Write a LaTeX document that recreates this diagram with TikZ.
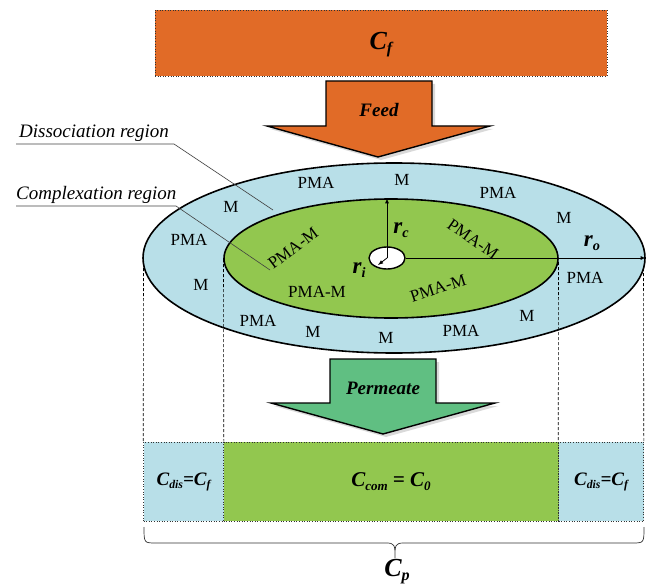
\documentclass[tikz,border=0pt]{standalone}
\usepackage{fontspec}
\setmainfont{Liberation Serif}
\usetikzlibrary{shapes.geometric}
\definecolor{feedorange}{HTML}{E16B27}
\definecolor{ringblue}{HTML}{B8DFE8}
\definecolor{coregreen}{HTML}{92C74F}
\definecolor{permgreen}{HTML}{60BF82}
\newcommand\dn[1]{\raisebox{-0.35ex}{\scalebox{0.62}{#1}}}
\tikzset{
  lbl/.style={font=\fontsize{17}{17}\selectfont, inner sep=0pt},
  bigarrow/.style={draw=black, line width=1.4pt, line join=miter},
  dotbox/.style={draw=black!80, dotted, line width=0.6pt},
  guide/.style={dashed, line width=0.6pt, dash pattern=on 3pt off 2pt},
  leader/.style={draw=black!75, line width=0.6pt},
  region/.style={font=\fontsize{19}{19}\selectfont\itshape, inner sep=0pt, anchor=base west},
  bi/.style={font=\bfseries\itshape, inner sep=0pt},
  ell/.style={draw=black, line width=1.6pt, ellipse, inner sep=0pt}
}
\begin{document}
\begin{tikzpicture}[x=1pt,y=-1pt]
\useasboundingbox (0,0) rectangle (647,588);
% feed box
\node[dotbox, fill=feedorange, minimum width=452pt, minimum height=66pt, inner sep=0pt] (feedbox) at (381,43) {};
\node[bi, font=\fontsize{26}{26}\selectfont\bfseries\itshape] (cf) at (381,45) {C\dn{f}};
% feed arrow
\fill[black!15] (329,84) -- (435,84) -- (435,129) -- (493,129) -- (381,160) -- (270,129) -- (329,129) -- cycle;
\draw[bigarrow, fill=feedorange] (326,81) -- (432,81) -- (432,126) -- (490,126) -- (378,157) -- (267,126) -- (326,126) -- cycle;
\node[bi, font=\fontsize{19}{19}\selectfont\bfseries\itshape] (feed) at (379,110) {Feed};
% ellipses
\node[ell, fill=ringblue, minimum width=502pt, minimum height=190pt] (outer) at (394,258) {};
\node[ell, fill=coregreen, minimum width=334pt, minimum height=119pt] (inner) at (391,258.5) {};
\node[ell, fill=white, line width=1.4pt, minimum width=36pt, minimum height=22pt] (hole) at (387,258) {};
\coordinate (ctr) at (387,258);
% radii
\draw[-latex, line width=0.8pt] (ctr) -- (inner.north -| ctr);
\draw[-latex, line width=0.8pt] (hole.east) -- (outer.east);
\draw[-latex, line width=0.8pt] (ctr) -- (378,265);
\node[bi, font=\fontsize{23}{23}\selectfont\bfseries\itshape] (rc) at (401,230) {r\dn{c}};
\node[bi, font=\fontsize{23}{23}\selectfont\bfseries\itshape] (ro) at (592,243) {r\dn{o}};
\node[bi, font=\fontsize{23}{23}\selectfont\bfseries\itshape] (ri) at (359,270) {r\dn{i}};
% ring labels
\node[lbl] (a1) at (316,183) {PMA};
\node[lbl] (a2) at (402,180) {M};
\node[lbl] (a3) at (498,193) {PMA};
\node[lbl] (a4) at (231,207) {M};
\node[lbl] (a5) at (564,218) {M};
\node[lbl] (a6) at (189,240) {PMA};
\node[lbl] (a7) at (585,278) {PMA};
\node[lbl] (a8) at (201,285) {M};
\node[lbl] (a9) at (258,321) {PMA};
\node[lbl] (a10) at (313,332) {M};
\node[lbl] (a11) at (386,338) {M};
\node[lbl] (a12) at (461,331) {PMA};
\node[lbl] (a13) at (527,316) {M};
% core labels
\node[lbl, rotate=37] (b1) at (293,248) {PMA-M};
\node[lbl, rotate=-35] (b2) at (473,239) {PMA-M};
\node[lbl] (b3) at (317,292) {PMA-M};
\node[lbl, rotate=18] (b4) at (438,288) {PMA-M};
% region labels
\node[region] (dis) at (19,138) {Dissociation region};
\node[region] (com) at (16,199) {Complexation region};
\coordinate (d1) at (16,144); \coordinate (d2) at (174,144); \coordinate (d3) at (273,210);
\coordinate (c1) at (16,206); \coordinate (c2) at (176,206); \coordinate (c3) at (270,270);
\draw[leader] (d1) -- (d2) -- (d3);
\draw[leader] (c1) -- (c2) -- (c3);
% bottom boxes
\node[dotbox, fill=ringblue, minimum width=80pt, minimum height=79pt, inner sep=0pt] (lbox) at (183.5,481.5) {};
\node[dotbox, fill=coregreen, minimum width=335pt, minimum height=79pt, inner sep=0pt] (mbox) at (391,481.5) {};
\node[dotbox, fill=ringblue, minimum width=85pt, minimum height=79pt, inner sep=0pt] (rbox) at (601,481.5) {};
\node[bi, font=\fontsize{19}{19}\selectfont\bfseries\itshape] at (lbox.center) {C\dn{dis}=C\dn{f}};
\node[bi, font=\fontsize{21}{21}\selectfont\bfseries\itshape] at (mbox.center) {C\dn{com} = C\dn{0}};
\node[bi, font=\fontsize{19}{19}\selectfont\bfseries\itshape] at (rbox.center) {C\dn{dis}=C\dn{f}};
% guides
\draw[guide] (143.5,268) -- (lbox.north west);
\draw[guide] (223.5,259) -- (lbox.north east);
\draw[guide] (558.5,262) -- (rbox.north west);
\draw[guide] (643.5,268) -- (rbox.north east);
% permeate arrow
\fill[black!15] (333,362) -- (439,362) -- (439,406) -- (498,406) -- (386,437) -- (274,406) -- (333,406) -- cycle;
\draw[bigarrow, fill=permgreen] (330,359) -- (436,359) -- (436,403) -- (495,403) -- (383,434) -- (271,403) -- (330,403) -- cycle;
\node[bi, font=\fontsize{19}{19}\selectfont\bfseries\itshape] (perm) at (383,388) {Permeate};
% brace
\coordinate (bl) at (144,527); \coordinate (br) at (644,527); \coordinate (bt) at (395,558);
\draw[black!80, line width=0.7pt] (bl) .. controls (144,543) and (144,543) .. (156,543) -- (386,543) .. controls (395,543) and (395,545) .. (bt) .. controls (395,545) and (395,543) .. (404,543) -- (632,543) .. controls (644,543) and (644,543) .. (br);
\node[bi, font=\fontsize{26}{26}\selectfont\bfseries\itshape] (cp) at (397,572) {C\dn{p}};
\end{tikzpicture}
\end{document}
